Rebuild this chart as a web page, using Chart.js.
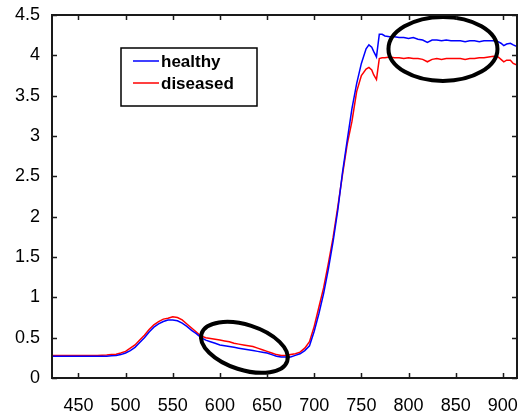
<!DOCTYPE html>
<html>
<head>
<meta charset="utf-8">
<script src="https://cdn.jsdelivr.net/npm/chart.js@4.4.0/dist/chart.umd.min.js"></script>
<style>
  html, body { margin: 0; padding: 0; background: #ffffff; }
  #wrap { width: 526px; height: 417px; }
</style>
</head>
<body>
<div id="wrap"><canvas id="grafico" width="526" height="417"></canvas></div>
<script>
// Longitudes de onda (nm)
const wavelengths = [
  422, 430, 440, 450, 460, 470, 480, 485, 490, 495,
  500, 505, 510, 515, 520, 525, 530, 535, 540, 545,
  550, 555, 560, 565, 570, 575, 580, 585, 590, 595,
  600, 605, 610, 615, 620, 625, 630, 635, 640, 645,
  650, 655, 660, 665, 670, 675, 680, 685, 690, 695,
  700, 705, 710, 715, 720, 725, 730, 735, 740, 745,
  750, 755, 758, 761, 763, 766, 769, 772, 775, 780,
  785, 790, 795, 800, 805, 810, 815, 820, 825, 830,
  835, 840, 845, 850, 855, 860, 865, 870, 875, 880,
  885, 890, 895, 898, 901, 904, 908, 911, 915
];

// Reflectancia - hoja sana
const healthy = [
  0.27, 0.27, 0.27, 0.27, 0.27, 0.27, 0.27, 0.275, 0.28, 0.29,
  0.31, 0.34, 0.38, 0.44, 0.50, 0.57, 0.63, 0.67, 0.70, 0.72,
  0.72, 0.71, 0.68, 0.64, 0.59, 0.55, 0.50, 0.47, 0.45, 0.43,
  0.41, 0.40, 0.39, 0.38, 0.37, 0.36, 0.35, 0.34, 0.33, 0.32,
  0.31, 0.29, 0.27, 0.26, 0.26, 0.26, 0.28, 0.30, 0.34, 0.40,
  0.58, 0.80, 1.05, 1.35, 1.69, 2.08, 2.55, 2.95, 3.34, 3.65,
  3.90, 4.08, 4.13, 4.10, 4.05, 3.98, 4.26, 4.26, 4.24, 4.23,
  4.23, 4.22, 4.22, 4.21, 4.22, 4.20, 4.19, 4.16, 4.19, 4.19,
  4.18, 4.19, 4.18, 4.18, 4.18, 4.17, 4.18, 4.18, 4.17, 4.18,
  4.18, 4.18, 4.17, 4.15, 4.12, 4.14, 4.15, 4.13, 4.11
];

// Reflectancia - hoja enferma
const diseased = [
  0.28, 0.28, 0.28, 0.28, 0.28, 0.28, 0.285, 0.29, 0.295, 0.31,
  0.33, 0.37, 0.41, 0.47, 0.53, 0.60, 0.66, 0.70, 0.73, 0.74,
  0.76, 0.75, 0.72, 0.67, 0.62, 0.57, 0.52, 0.50, 0.49, 0.48,
  0.47, 0.46, 0.45, 0.43, 0.42, 0.41, 0.40, 0.39, 0.37, 0.35,
  0.33, 0.31, 0.29, 0.28, 0.28, 0.29, 0.30, 0.32, 0.37, 0.45,
  0.64, 0.88, 1.12, 1.42, 1.74, 2.12, 2.52, 2.90, 3.18, 3.55,
  3.75, 3.83, 3.85, 3.82, 3.76, 3.70, 3.96, 3.97, 3.97, 3.98,
  3.97, 3.97, 3.96, 3.97, 3.96, 3.96, 3.95, 3.92, 3.95, 3.96,
  3.95, 3.96, 3.96, 3.96, 3.96, 3.95, 3.96, 3.96, 3.97, 3.97,
  3.98, 3.99, 3.98, 3.95, 3.92, 3.94, 3.94, 3.90, 3.88
];

const seriesLabels = ['healthy', 'diseased'];
const seriesColors = ['#0000ff', '#ff0000'];

// Elipses marcadas a mano (centro en unidades de datos, radios en px)
const marks = [
  { x: 626, y: 0.38, rx: 45, ry: 22.5, rot: 17.8 },
  { x: 836.5, y: 4.08, rx: 54.5, ry: 32, rot: 0 }
];

const FONT = 'Liberation Sans, Arial, Helvetica, sans-serif';

function toPoints(vals) {
  return wavelengths.map((w, i) => ({ x: w, y: vals[i] }));
}

// Marco, marcas de eje hacia dentro, leyenda y elipses
const decorPlugin = {
  id: 'decor',
  afterDatasetsDraw(chart) {
    const ctx = chart.ctx;
    const area = chart.chartArea;
    const xs = chart.scales.x;
    const ys = chart.scales.y;
    ctx.save();

    // elipses
    ctx.strokeStyle = '#000';
    ctx.lineWidth = 4;
    marks.forEach(m => {
      ctx.beginPath();
      ctx.ellipse(xs.getPixelForValue(m.x), ys.getPixelForValue(m.y), m.rx, m.ry, m.rot * Math.PI / 180, 0, Math.PI * 2);
      ctx.stroke();
    });

    // marco
    ctx.strokeStyle = '#1a1a1a';
    ctx.lineWidth = 2;
    ctx.strokeRect(area.left, area.top, area.right - area.left, area.bottom - area.top);

    // ticks hacia dentro
    const tl = 5;
    ctx.lineWidth = 1.5;
    ctx.beginPath();
    xs.ticks.forEach(t => {
      const px = Math.round(xs.getPixelForValue(t.value)) + 0.5;
      ctx.moveTo(px, area.bottom); ctx.lineTo(px, area.bottom - tl);
      ctx.moveTo(px, area.top); ctx.lineTo(px, area.top + tl);
    });
    ys.ticks.forEach(t => {
      const py = Math.round(ys.getPixelForValue(t.value)) + 0.5;
      ctx.moveTo(area.left, py); ctx.lineTo(area.left + tl, py);
      ctx.moveTo(area.right, py); ctx.lineTo(area.right - tl, py);
    });
    ctx.stroke();

    // leyenda
    const bx = 121, by = 48, bw = 136, bh = 58;
    ctx.fillStyle = '#fff';
    ctx.fillRect(bx, by, bw, bh);
    ctx.strokeStyle = '#000';
    ctx.lineWidth = 1.5;
    ctx.strokeRect(bx, by, bw, bh);
    ctx.font = 'bold 17px ' + FONT;
    ctx.textBaseline = 'middle';
    chart.data.datasets.forEach((ds, i) => {
      const ly = by + 13 + i * 22;
      ctx.strokeStyle = ds.borderColor;
      ctx.lineWidth = 1.5;
      ctx.beginPath();
      ctx.moveTo(bx + 12, ly); ctx.lineTo(bx + 38, ly);
      ctx.stroke();
      ctx.fillStyle = '#000';
      ctx.fillText(ds.label, bx + 40, ly + 1);
    });

    ctx.restore();
  }
};

const chartInstance = new Chart(document.getElementById('grafico').getContext('2d'), {
  type: 'line',
  data: {
    datasets: seriesLabels.map((lab, i) => ({
      label: lab,
      data: toPoints(i === 0 ? healthy : diseased),
      borderColor: seriesColors[i],
      borderWidth: 1.5,
      pointRadius: 0,
      tension: 0,
      fill: false
    }))
  },
  options: {
    responsive: false,
    animation: false,
    devicePixelRatio: 1,
    layout: { padding: { top: 15, right: 9, left: 0, bottom: 0 } },
    plugins: {
      legend: { display: false },
      tooltip: { enabled: false }
    },
    scales: {
      x: {
        type: 'linear',
        min: 422,
        max: 915,
        afterFit: axis => {
          axis.height = 39;
          // que la etiqueta 900 no encoja el area del grafico
          axis.paddingLeft = 0;
          axis.paddingRight = 0;
        },
        grid: { display: false, drawTicks: false },
        border: { display: false },
        ticks: {
          stepSize: 50,
          includeBounds: false,
          maxRotation: 0,
          autoSkip: false,
          padding: 17,
          color: '#000',
          font: { family: FONT, size: 18 }
        }
      },
      y: {
        min: 0,
        max: 4.5,
        afterFit: axis => {
          axis.width = 52;
          axis.paddingTop = 0;
          axis.paddingBottom = 0;
        },
        grid: { display: false, drawTicks: false },
        border: { display: false },
        ticks: {
          stepSize: 0.5,
          includeBounds: false,
          padding: 12,
          color: '#000',
          font: { family: FONT, size: 18 },
          callback: v => String(Math.round(v * 10) / 10)
        }
      }
    }
  },
  plugins: [decorPlugin]
});
</script>
</body>
</html>
